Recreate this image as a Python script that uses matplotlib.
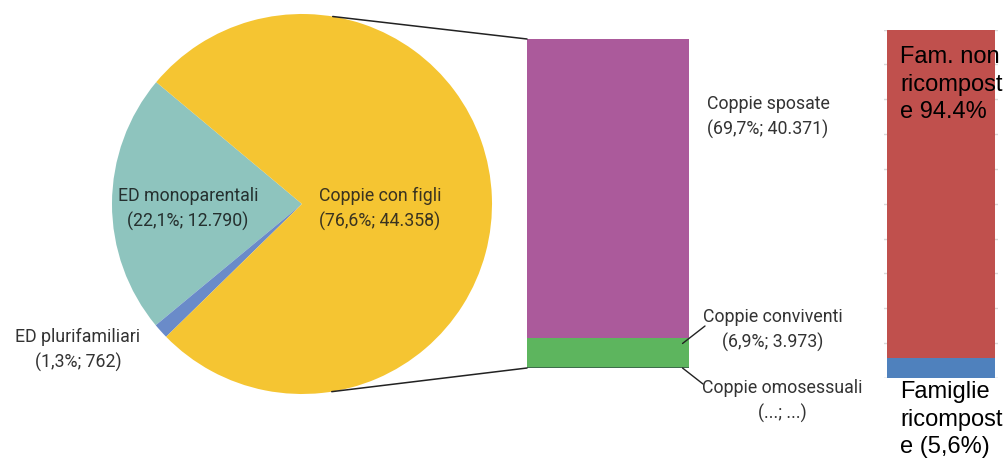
import matplotlib
matplotlib.use("Agg")
import matplotlib.pyplot as plt
from matplotlib.patches import ConnectionPatch
import numpy as np

# ---------------- data ----------------
pie_labels = ["ED monoparentali", "ED plurifamiliari", "Coppie con figli"]
pie_pct = ["22,1%", "1,3%", "76,6%"]
pie_values = [22.1, 1.3, 76.6]
pie_counts = ["12.790", "762", "44.358"]

mid_labels = ["Coppie omosessuali", "Coppie conviventi", "Coppie sposate"]
mid_values = [0.2, 6.9, 69.7]
mid_texts = ["(...; ...)", "(6,9%; 3.973)", "(69,7%; 40.371)"]

right_labels = ["Famiglie ricomposte", "Fam. non ricomposte"]
right_values = [5.6, 94.4]
right_texts = ["Famiglie\nricompost\ne (5,6%)", "Fam. non\nricompost\ne 94.4%"]

pie_colors = ["#8EC4BE", "#6A8BC9", "#F5C532"]
mid_colors = ["#3E6E4C", "#5DB55E", "#AB5A9B"]
right_colors = ["#4F81BD", "#C0504D"]

W, H = 1008, 460
fig = plt.figure(figsize=(W / 100, H / 100), dpi=100)
fig.patch.set_facecolor("white")

def frac(x, y):
    """pixel (from top-left) -> figure fraction"""
    return x / W, 1 - y / H

def axes_px(x0, y0, x1, y1):
    return fig.add_axes([x0 / W, 1 - y1 / H, (x1 - x0) / W, (y1 - y0) / H])

cond = dict(family=["Roboto", "DejaVu Sans"])
FS = 12.8
LS = 1.5
tcol = "#333333"

# ---------------- pie ----------------
axp = axes_px(112, 15, 492, 395)
axp.pie(pie_values, colors=pie_colors, startangle=140.1, counterclock=True,
        radius=1.0, wedgeprops=dict(linewidth=0))
axp.set_xlim(-1, 1)
axp.set_ylim(-1, 1)
axp.set_aspect("equal")
axp.axis("off")

pie_pos = [(188, 209), (78, 350), (380, 209)]
pie_tcols = ["#25302f", tcol, "#3a3320"]
for lab, p, n, pos, c in zip(pie_labels, pie_pct, pie_counts, pie_pos, pie_tcols):
    fx, fy = frac(*pos)
    fig.text(fx, fy, f"{lab}\n({p}; {n})", ha="center", va="center",
             fontsize=FS, color=c, linespacing=LS, **cond)

# ---------------- middle bar ----------------
axm = axes_px(527, 40, 689, 369)
bottom = 0
for v, c in zip(mid_values, mid_colors):
    axm.bar(0, v, bottom=bottom, width=1.0, color=c, linewidth=0)
    bottom += v
axm.set_xlim(-0.5, 0.5)
axm.set_ylim(0, sum(mid_values))
axm.axis("off")

# connection lines pie -> bar
a1 = np.deg2rad(80.7)
a2 = np.deg2rad(-81.0)
for ang, yb in [(a1, 1.0), (a2, 0.0)]:
    con = ConnectionPatch(xyA=(np.cos(ang), np.sin(ang)), coordsA=axp.transData,
                          xyB=(0.0, yb), coordsB=axm.transAxes,
                          color="#222222", lw=1.1)
    fig.add_artist(con)

# labels
mid_pos = [(782, 401), (773, 330), (768, 117)]
for lab, t, pos in zip(mid_labels, mid_texts, mid_pos):
    fx, fy = frac(*pos)
    fig.text(fx, fy, f"{lab}\n{t}", ha="center", va="center",
             fontsize=FS, color=tcol, linespacing=LS, **cond)

# leader lines
axm.annotate("", xy=(0.46, mid_values[0] + mid_values[1] * 0.8), xycoords="data",
             xytext=frac(705, 327), textcoords="figure fraction",
             arrowprops=dict(arrowstyle="-", color="#222222", lw=1.0,
                             shrinkA=0, shrinkB=0), annotation_clip=False)
axm.annotate("", xy=(0.46, 0.0), xycoords="data",
             xytext=frac(703, 385), textcoords="figure fraction",
             arrowprops=dict(arrowstyle="-", color="#222222", lw=1.0,
                             shrinkA=0, shrinkB=0), annotation_clip=False)

# ---------------- right bar ----------------
axr = axes_px(884, 30.5, 998, 379)
bottom = 0
for v, c in zip(right_values, right_colors):
    axr.bar(0, v, bottom=bottom, width=108 / 114, color=c, linewidth=0, zorder=3)
    bottom += v
axr.set_xlim(-0.5, 0.5)
axr.set_ylim(0, 100)
axr.set_yticks(np.arange(0, 101, 10))
axr.grid(axis="y", color="#D9D9D9", lw=1.0, zorder=0)
axr.set_xticks([])
axr.tick_params(left=False, labelleft=False)
for s in axr.spines.values():
    s.set_visible(False)
axr.axhline(0, color="#D0D0D0", lw=1.0, zorder=2)

arial = dict(family=["Liberation Sans", "DejaVu Sans"])
fx, fy = frac(900, 46)
fig.text(fx, fy, right_texts[1], ha="left", va="top", fontsize=17,
         color="black", linespacing=1.33, **arial)
fx, fy = frac(900, 381)
fig.text(fx, fy, right_texts[0], ha="left", va="top", fontsize=17,
         color="black", linespacing=1.33, **arial)

fig.savefig("out.png", dpi=100, facecolor="white")
